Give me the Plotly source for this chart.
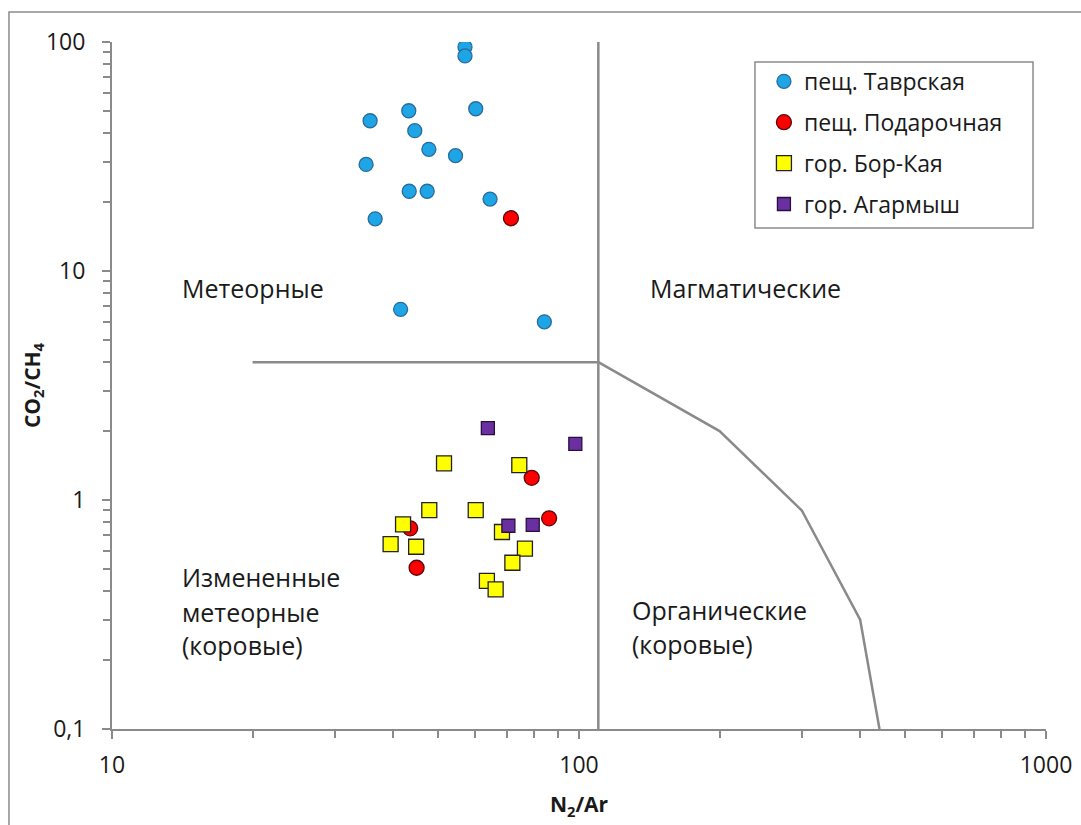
import math
import plotly.graph_objects as go

# --- Sample data: N2/Ar vs CO2/CH4 ---
tavr_x = [57.0, 57.0, 43.2, 60.1, 35.7, 44.5, 47.7, 54.4, 35.0, 43.3, 47.3, 64.5, 36.6, 41.5, 84.3]
tavr_y = [95.1, 86.9, 50.1, 51.1, 45.3, 41.0, 34.0, 31.9, 29.2, 22.3, 22.3, 20.6, 16.9, 6.8, 6.0]

podar_x = [71.5, 43.5, 44.9, 79.2, 86.3]
podar_y = [17.0, 0.752, 0.506, 1.25, 0.832]

bor_x = [51.4, 74.5, 47.8, 60.1, 42.0, 68.4, 39.5, 44.8, 76.6, 72.0, 63.5, 66.3]
bor_y = [1.446, 1.42, 0.904, 0.904, 0.783, 0.725, 0.642, 0.625, 0.613, 0.532, 0.443, 0.407]

agar_x = [63.8, 98.2, 70.6, 79.6]
agar_y = [2.06, 1.76, 0.772, 0.778]

# --- Field boundaries ---
vline_x = [110, 110]
vline_y = [100, 0.1]
hline_x = [20, 110]
hline_y = [4, 4]
curve_x = [110, 200, 300, 400, 440]
curve_y = [4, 2, 0.9, 0.3, 0.1]

# --- Field names, one entry per text line ---
field_lines = ["Метеорные", "Магматические",
               "Измененные", "метеорные", "(коровые)",
               "Органические", "(коровые)"]

tick_y_vals = [0.1, 1, 10, 100]
tick_y_text = ["0,1", "1", "10", "100"]
tick_x_vals = [10, 100, 1000]
tick_x_text = ["10", "100", "1000"]

# label anchors (left edge, vertical middle) in data units
label_pos = [(14.0, 8.43), (140.6, 8.43),
             (14.0, 0.461), (14.0, 0.324), (14.0, 0.233),
             (128.5, 0.331), (128.5, 0.235)]

# minor ticks at 2..9 within each decade
minor_x = [m * 10 ** k for k in (1, 2) for m in range(2, 10)]
minor_y = [m * 10 ** k for k in (-1, 0, 1) for m in range(2, 10)]

FONT = "Open Sans"
TXT = "#1a1a1a"
LINE = "#8a8a8a"

fig = go.Figure()

for xs, ys in [(vline_x, vline_y), (hline_x, hline_y), (curve_x, curve_y)]:
    fig.add_trace(go.Scatter(x=xs, y=ys, mode="lines", showlegend=False,
                             line=dict(color=LINE, width=2.5), hoverinfo="skip"))

fig.add_trace(go.Scatter(x=tavr_x, y=tavr_y, mode="markers", name="пещ. Таврская",
                         legendgroup="a",
                         marker=dict(symbol="circle", size=14, color="#1ea5e6",
                                     line=dict(color="#2a6c9c", width=1.3))))
fig.add_trace(go.Scatter(x=podar_x, y=podar_y, mode="markers", name="пещ. Подарочная",
                         legendgroup="b",
                         marker=dict(symbol="circle", size=15, color="#ff0000",
                                     line=dict(color="#5a0a0a", width=1.3))))
fig.add_trace(go.Scatter(x=bor_x, y=bor_y, mode="markers", name="гор. Бор-Кая",
                         legendgroup="c",
                         marker=dict(symbol="square", size=15, color="#ffff00",
                                     line=dict(color="#222222", width=1.3))))
fig.add_trace(go.Scatter(x=agar_x, y=agar_y, mode="markers", name="гор. Агармыш",
                         legendgroup="d",
                         marker=dict(symbol="square", size=13, color="#6a2fa0",
                                     line=dict(color="#2a1040", width=1.3))))

# annotations on log axes take log10 coordinates
for txt, (fx, fy) in zip(field_lines, label_pos):
    fig.add_annotation(x=math.log10(fx), y=math.log10(fy), xref="x", yref="y",
                       text=txt, showarrow=False, xanchor="left", yanchor="middle",
                       align="left", font=dict(family=FONT, size=25, color=TXT))

# outer chart frame (left and top edges visible)
fig.add_shape(type="rect", xref="paper", yref="paper",
              x0=-0.1103, x1=1.06, y0=-0.16, y1=1.0437,
              line=dict(color="#8c8c8c", width=1.5), layer="below")

# legend frame
fig.add_shape(type="rect", xref="paper", yref="paper",
              x0=0.6884, x1=0.9861, y0=0.7293, y1=0.9709,
              line=dict(color="#8c8c8c", width=1.5), fillcolor="white", layer="below")

axis_common = dict(showgrid=False, zeroline=False, showline=True, automargin=False,
                   linecolor=LINE, linewidth=2,
                   ticks="outside", ticklen=8, tickcolor=LINE, tickwidth=1.5,
                   tickfont=dict(family=FONT, size=23, color=TXT))

fig.update_layout(
    width=1081, height=825,
    margin=dict(l=112, r=35, t=42, b=96),
    paper_bgcolor="white", plot_bgcolor="rgba(0,0,0,0)",
    font=dict(family=FONT, color=TXT),
    legend=dict(x=0.698, y=0.974, xanchor="left", yanchor="top",
                borderwidth=0, bgcolor="rgba(0,0,0,0)",
                font=dict(family=FONT, size=23, color=TXT),
                tracegroupgap=8, itemwidth=30),
    xaxis=dict(type="log", range=[1, 3],
               tickvals=tick_x_vals, ticktext=tick_x_text,
               ticklabelstandoff=6,
               minor=dict(tickvals=minor_x, ticks="outside", ticklen=7,
                          tickcolor=LINE, tickwidth=1.5, showgrid=False),
               title=dict(text="<b>N<sub>2</sub>/Ar</b>", standoff=19,
                          font=dict(family=FONT, size=21, color=TXT)),
               **axis_common),
    yaxis=dict(type="log", range=[-1, 2],
               tickvals=tick_y_vals, ticktext=tick_y_text,
               ticklabelstandoff=12,
               minor=dict(tickvals=minor_y, ticks="outside", ticklen=7,
                          tickcolor=LINE, tickwidth=1.5, showgrid=False),
               title=dict(text="<b>CO<sub>2</sub>/CH<sub>4</sub></b>", standoff=0,
                          font=dict(family=FONT, size=21, color=TXT)),
               **axis_common),
)

fig.write_html("out.html")
